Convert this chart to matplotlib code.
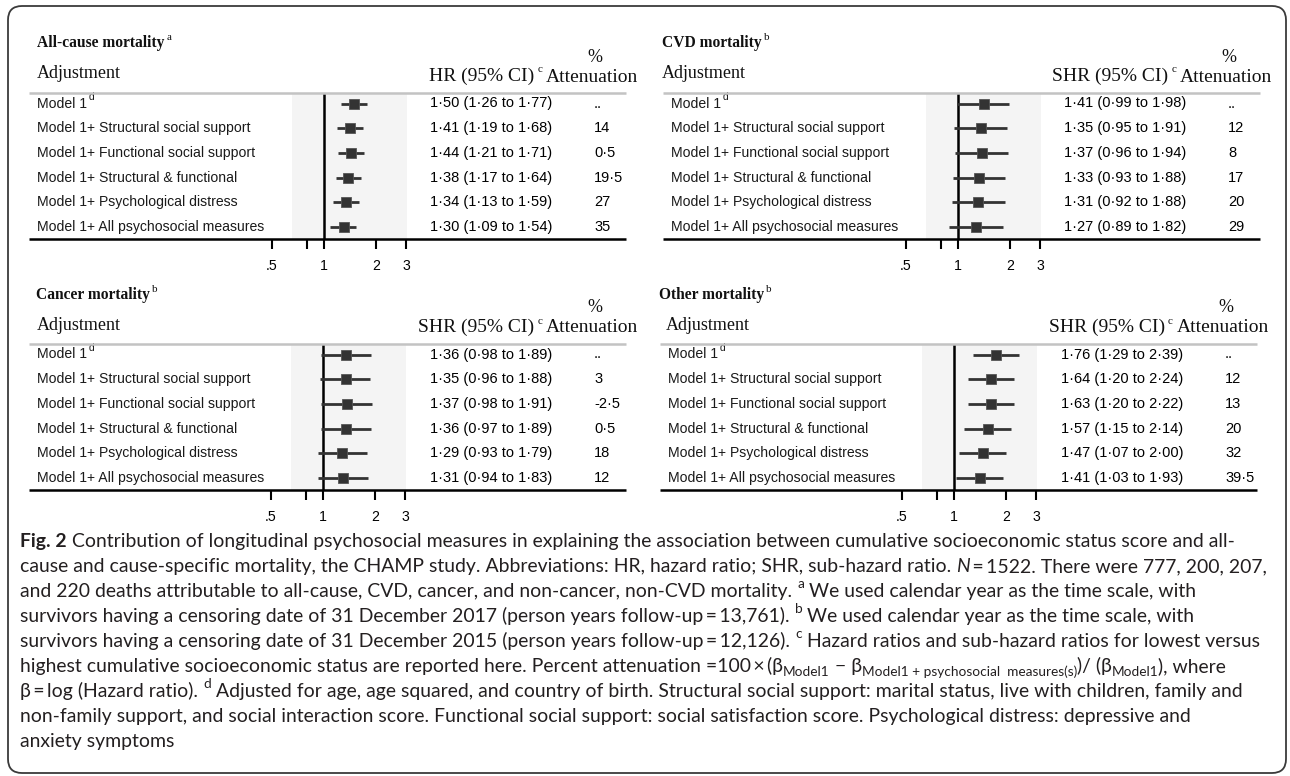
import numpy as np
import matplotlib
matplotlib.use("Agg")
import matplotlib.pyplot as plt
import matplotlib.transforms as mtransforms
from matplotlib.font_manager import FontProperties
from matplotlib.patches import FancyBboxPatch
from matplotlib.ticker import NullLocator

# ---------------- data ----------------
row_labels = ["Model 1", "Model 1+ Structural social support", "Model 1+ Functional social support",
              "Model 1+ Structural & functional", "Model 1+ Psychological distress",
              "Model 1+ All psychosocial measures"]
row_notes = ["d", "", "", "", "", ""]
panel_titles = ["All-cause mortality", "CVD mortality", "Cancer mortality", "Other mortality"]
panel_title_notes = ["a", "b", "b", "b"]
ratio_headers = ["HR (95% CI)", "SHR (95% CI)", "SHR (95% CI)", "SHR (95% CI)"]
ratio_header_note = "c"

allcause_est = [1.50, 1.41, 1.44, 1.38, 1.34, 1.30]
allcause_lo = [1.26, 1.19, 1.21, 1.17, 1.13, 1.09]
allcause_hi = [1.77, 1.68, 1.71, 1.64, 1.59, 1.54]
allcause_att = ["..", "14", "0·5", "19·5", "27", "35"]

cvd_est = [1.41, 1.35, 1.37, 1.33, 1.31, 1.27]
cvd_lo = [0.99, 0.95, 0.96, 0.93, 0.92, 0.89]
cvd_hi = [1.98, 1.91, 1.94, 1.88, 1.88, 1.82]
cvd_att = ["..", "12", "8", "17", "20", "29"]

cancer_est = [1.36, 1.35, 1.37, 1.36, 1.29, 1.31]
cancer_lo = [0.98, 0.96, 0.98, 0.97, 0.93, 0.94]
cancer_hi = [1.89, 1.88, 1.91, 1.89, 1.79, 1.83]
cancer_att = ["..", "3", "-2·5", "0·5", "18", "12"]

other_est = [1.76, 1.64, 1.63, 1.57, 1.47, 1.41]
other_lo = [1.29, 1.20, 1.20, 1.15, 1.07, 1.03]
other_hi = [2.39, 2.24, 2.22, 2.14, 2.00, 1.93]
other_att = ["..", "12", "13", "20", "32", "39·5"]

tick_values = [0.5, 0.8, 1, 2, 3]
tick_labels = [".5", "", "1", "2", "3"]
shade_range = (0.65, 3.03)

caption_lines = [
    [("Fig. 2", "b"), (" Contribution of longitudinal psychosocial measures in explaining the association between cumulative socioeconomic status score and all-", "n")],
    [("cause and cause-specific mortality, the CHAMP study. Abbreviations: HR, hazard ratio; SHR, sub-hazard ratio. ", "n"), ("N", "i"), ("\u2009=\u20091522. There were 777, 200, 207,", "n")],
    [("and 220 deaths attributable to all-cause, CVD, cancer, and non-cancer, non-CVD mortality. ", "n"), ("a", "sup"), (" We used calendar year as the time scale, with", "n")],
    [("survivors having a censoring date of 31 December 2017 (person years follow-up\u2009=\u200913,761). ", "n"), ("b", "sup"), (" We used calendar year as the time scale, with", "n")],
    [("survivors having a censoring date of 31 December 2015 (person years follow-up\u2009=\u200912,126). ", "n"), ("c", "sup"), (" Hazard ratios and sub-hazard ratios for lowest versus", "n")],
    [("highest cumulative socioeconomic status are reported here. Percent attenuation =100\u2009\u00d7\u2009(\u03b2", "n"), ("Model1", "sub"), (" \u2212 \u03b2", "n"), ("Model1 + psychosocial  measures(s)", "sub"), (")/ (\u03b2", "n"), ("Model1", "sub"), ("), where", "n")],
    [("\u03b2\u2009=\u2009log (Hazard ratio). ", "n"), ("d", "sup"), (" Adjusted for age, age squared, and country of birth. Structural social support: marital status, live with children, family and", "n")],
    [("non-family support, and social interaction score. Functional social support: social satisfaction score. Psychological distress: depressive and", "n")],
    [("anxiety symptoms", "n")],
]

panels = [
    (panel_titles[0], panel_title_notes[0], ratio_headers[0], allcause_est, allcause_lo, allcause_hi, allcause_att),
    (panel_titles[1], panel_title_notes[1], ratio_headers[1], cvd_est, cvd_lo, cvd_hi, cvd_att),
    (panel_titles[2], panel_title_notes[2], ratio_headers[2], cancer_est, cancer_lo, cancer_hi, cancer_att),
    (panel_titles[3], panel_title_notes[3], ratio_headers[3], other_est, other_lo, other_hi, other_att),
]

# ---------------- layout (pixels) ----------------
W, H = 1290, 776
geoms = [
    dict(ox=0, oy=0, toy=0, title_x=37, adj_x=37, v1=324),
    dict(ox=634, oy=0, toy=0, title_x=662, adj_x=662, v1=958),
    dict(ox=0, oy=251, toy=252, title_x=36, adj_x=37, v1=323),
    dict(ox=631, oy=251, toy=252, title_x=659, adj_x=666, v1=954),
]
PX_PER_LN = 75.0
XL, XR = 0.42, 3.4

serif = "Liberation Serif"
sans = "Liberation Sans"
fp_title = FontProperties(family=serif, weight="bold", size=11.2)
fp_note = FontProperties(family=serif, size=8)
fp_adj = FontProperties(family=serif, size=13)
fp_head = FontProperties(family=serif, size=14)
fp_pct = FontProperties(family=serif, size=13)
fp_lab = FontProperties(family=sans, size=10.1)
fp_labsup = FontProperties(family=sans, size=7.5)
fp_val = FontProperties(family=sans, size=10.5)
fp_tick = FontProperties(family=sans, size=10.2)
capfam = ["Lato", "DejaVu Sans"]

fig = plt.figure(figsize=(W / 100, H / 100), dpi=100)
fig.patch.set_facecolor("white")
renderer = fig.canvas.get_renderer()

bg = fig.add_axes([0, 0, 1, 1])
bg.set_xlim(0, W)
bg.set_ylim(H, 0)
bg.axis("off")
bg.patch.set_visible(False)
bg.set_zorder(2)


def measure(s, fp):
    t = bg.text(0, 0, s, fontproperties=fp)
    w = t.get_window_extent(renderer).width
    t.remove()
    return w


def advance(s, fp):
    return measure("|" + s + "|", fp) - measure("||", fp)


def fmt(e, l, h):
    return f"{e:.2f} ({l:.2f} to {h:.2f})".replace(".", "\u00b7")


# border
bg.add_patch(FancyBboxPatch((8, 6), 1278, 767, boxstyle="round,pad=0,rounding_size=14",
                            fill=False, ec="#3a3a3a", lw=1.3))

for (title, tnote, hdr, est, lo, hi, att), g in zip(panels, geoms):
    ox, oy = g["ox"], g["oy"]
    ty = 43 + g["toy"]
    # titles / headers
    bg.text(g["title_x"], ty, title, fontproperties=fp_title, va="center", color="#111")
    bg.text(g["title_x"] + advance(title, fp_title) + 2, ty - 5, tnote, fontproperties=fp_note,
            va="center", color="#111")
    bg.text(g["adj_x"], 74 + oy, "Adjustment", fontproperties=fp_adj, va="center", color="#111")
    wh = advance(hdr, fp_head)
    wn = advance(ratio_header_note, fp_note)
    x0 = 542 + ox - wh - 3 - wn
    bg.text(x0, 76 + oy, hdr, fontproperties=fp_head, va="center", color="#111")
    bg.text(x0 + wh + 3, 70 + oy, ratio_header_note, fontproperties=fp_note, va="center", color="#111")
    bg.text(595 + ox, 57 + oy, "%", fontproperties=fp_pct, ha="center", va="center", color="#111")
    bg.text(592 + ox, 77 + oy, "Attenuation", fontproperties=fp_head, ha="center", va="center", color="#111")
    # rules
    top, bot = 93 + oy, 239 + oy
    bg.plot([29 + ox, 626 + ox], [top, top], color="#c3c3c3", lw=1.8, solid_capstyle="butt")
    bg.plot([29 + ox, 626 + ox], [bot, bot], color="black", lw=1.8, solid_capstyle="butt")

    # forest axes
    v1 = g["v1"]
    xl = v1 + PX_PER_LN * np.log(XL)
    xr = v1 + PX_PER_LN * np.log(XR)
    ax = fig.add_axes([xl / W, 1 - bot / H, (xr - xl) / W, (bot - top) / H])
    ax.set_zorder(1)
    ax.patch.set_visible(False)
    ax.set_xscale("log")
    ax.set_xlim(XL, XR)
    hpx = bot - top
    step = 24.7
    ax.set_ylim(5 + (hpx - 10.5 - 5 * step) / step, -10.5 / step)
    for sp in ax.spines.values():
        sp.set_visible(False)
    ax.set_yticks([])
    ax.set_xticks(tick_values)
    ax.set_xticklabels(tick_labels, fontproperties=fp_tick)
    ax.xaxis.set_minor_locator(NullLocator())
    ax.tick_params(axis="x", direction="out", length=7.2, width=1.5, pad=7, colors="black")
    ax.axvspan(shade_range[0], shade_range[1], color="#f4f4f4", zorder=0, lw=0)
    ax.axvline(1, color="black", lw=1.8, zorder=2)
    rows = np.arange(len(row_labels))
    ax.hlines(rows, lo, hi, color="#333333", lw=2.0, zorder=3)
    ax.plot(est, rows, ls="none", marker="s", ms=7.8, mfc="#333333", mec="#555555", mew=0.6, zorder=4)

    trans = mtransforms.blended_transform_factory(bg.transData, ax.transData)
    trans_sup = mtransforms.offset_copy(trans, fig=fig, y=4.5, units="points")
    for i, lab in enumerate(row_labels):
        lx = 37 + ox
        ax.text(lx, i, lab, transform=trans, fontproperties=fp_lab, va="center", color="#1a1a1a")
        if row_notes[i]:
            ax.text(lx + advance(lab, fp_lab) + 2, i, row_notes[i], transform=trans_sup,
                    fontproperties=fp_labsup, va="center", color="#1a1a1a")
        ax.text(430 + ox, i, fmt(est[i], lo[i], hi[i]), transform=trans, fontproperties=fp_val,
                va="center", color="black")
        ax.text(594 + ox, i, att[i], transform=trans, fontproperties=fp_val, va="center", color="black")


# caption
def cap_fp(kind, size):
    if kind == "b":
        return FontProperties(family=capfam, weight="bold", size=size)
    if kind == "i":
        return FontProperties(family=capfam, style="italic", size=size)
    if kind in ("sup", "sub"):
        return FontProperties(family=capfam, size=size * 0.7)
    return FontProperties(family=capfam, size=size)


def line_width(runs, size):
    return sum(advance(s, cap_fp(k, size)) for s, k in runs)


cap_targets = [1272, 1268, 1240, 1240, 1270, 1272, 1272]
cap_size = min(10 * (t - 20) / line_width(r, 10) for t, r in zip(cap_targets, caption_lines))

for li, runs in enumerate(caption_lines):
    yb = 542 + 25 * li + 5
    x = 20
    for s, k in runs:
        fp = cap_fp(k, cap_size)
        dy = 0
        if k == "sup":
            dy = -0.45 * cap_size * 100 / 72
        elif k == "sub":
            dy = 0.2 * cap_size * 100 / 72
        bg.text(x, yb + dy, s, fontproperties=fp, va="baseline", ha="left", color="#231f20")
        x += advance(s, fp)

fig.savefig("out.png", dpi=100, facecolor="white")
